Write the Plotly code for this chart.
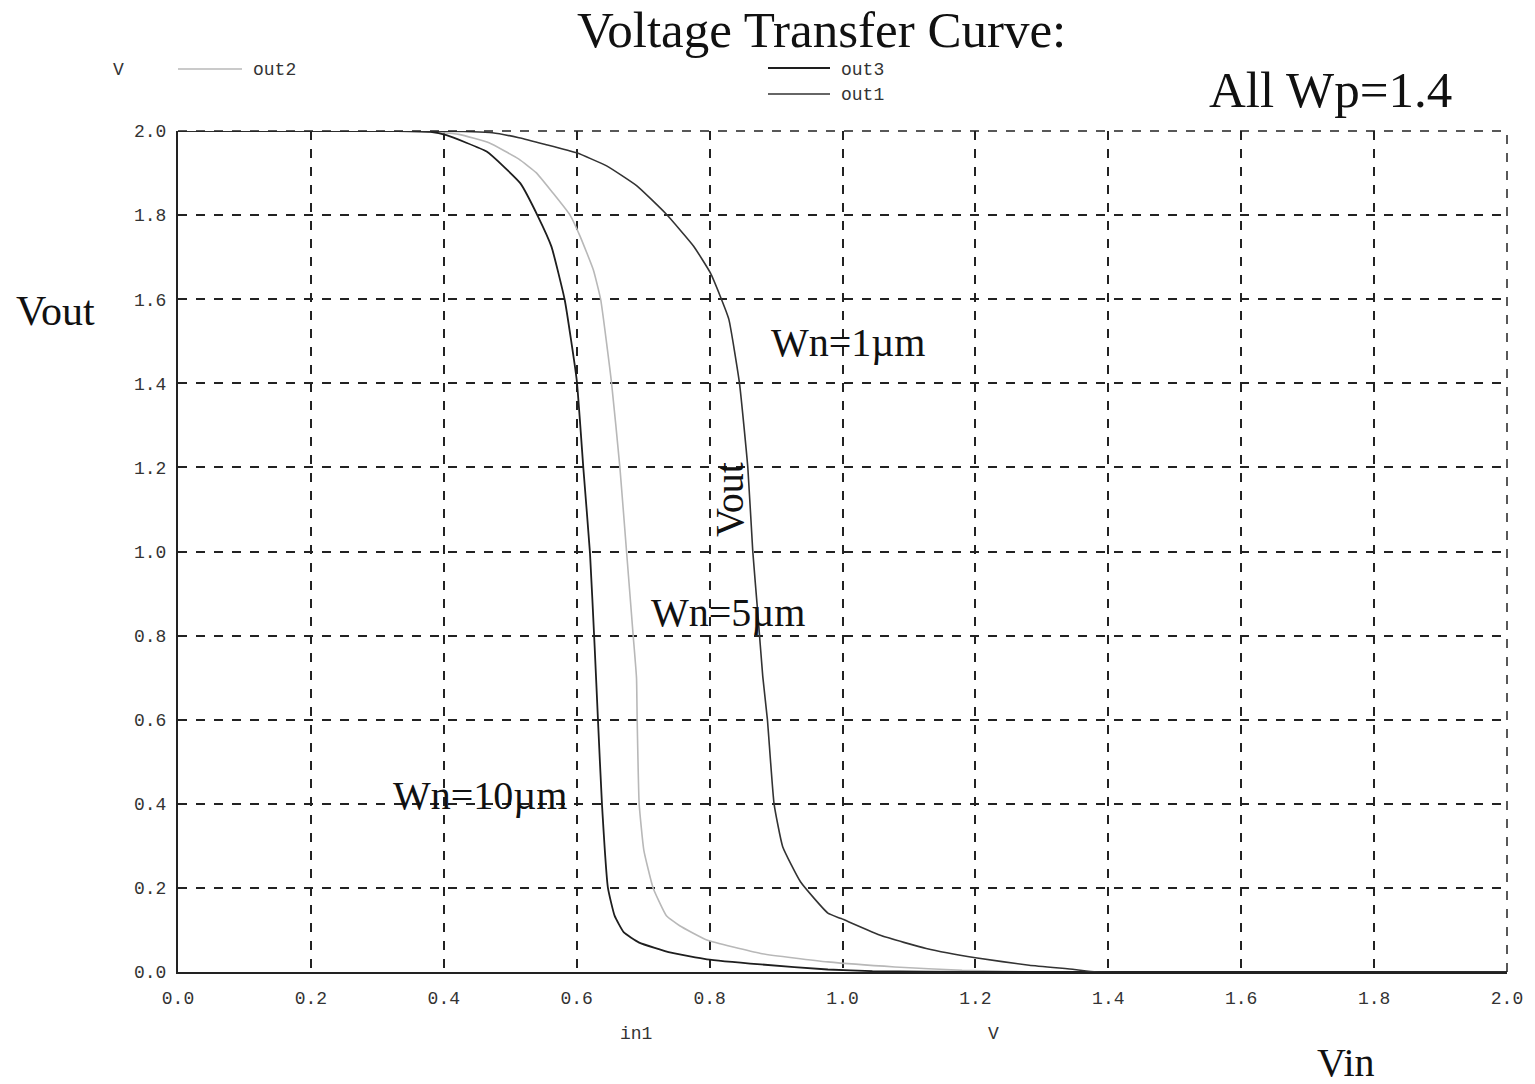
import plotly.graph_objects as go

# ---- data ----
vin_out3 = [0, 0.33, 0.38, 0.404, 0.4645, 0.515, 0.542, 0.562, 0.582, 0.600, 0.610, 0.620, 0.627,
            0.632, 0.638, 0.647, 0.657, 0.671, 0.694, 0.742, 0.796, 0.877, 0.978, 1.045, 1.2, 2.0]
vout_out3 = [2.0, 2.0, 1.998, 1.99, 1.951, 1.876, 1.796, 1.725, 1.598, 1.408, 1.198, 0.996, 0.774,
             0.6, 0.4, 0.2, 0.134, 0.094, 0.07, 0.046, 0.03, 0.018, 0.006, 0.002, 0.0, 0.0]

vin_out2 = [0, 0.36, 0.4227, 0.468, 0.513, 0.539, 0.564, 0.590, 0.605, 0.625, 0.636, 0.6525, 0.665,
            0.675, 0.685, 0.69, 0.691, 0.694, 0.701, 0.715, 0.735, 0.755, 0.796, 0.877, 0.978, 1.079,
            1.18, 1.3, 2.0]
vout_out2 = [2.0, 2.0, 1.992, 1.972, 1.933, 1.901, 1.853, 1.8, 1.75, 1.67, 1.6, 1.4, 1.2,
             1.0, 0.8, 0.7, 0.6, 0.4, 0.29, 0.2, 0.134, 0.11, 0.076, 0.044, 0.024, 0.012,
             0.004, 0.0, 0.0]

vin_out1 = [0, 0.38, 0.473, 0.513, 0.553, 0.6, 0.645, 0.691, 0.735, 0.776, 0.801, 0.816, 0.829,
            0.845, 0.8575, 0.865, 0.8725, 0.88, 0.887, 0.897, 0.910, 0.937, 0.978, 0.998, 1.059,
            1.126, 1.2, 1.281, 1.349, 1.382, 2.0]
vout_out1 = [2.0, 2.0, 1.996, 1.984, 1.968, 1.948, 1.917, 1.869, 1.802, 1.726, 1.663, 1.607, 1.552,
             1.4, 1.2, 1.0, 0.854, 0.703, 0.6, 0.4, 0.298, 0.214, 0.14, 0.127, 0.086,
             0.056, 0.034, 0.016, 0.006, 0.0, 0.0]

tick_vals = [0.0, 0.2, 0.4, 0.6, 0.8, 1.0, 1.2, 1.4, 1.6, 1.8, 2.0]
tick_text = ["0.0", "0.2", "0.4", "0.6", "0.8", "1.0", "1.2", "1.4", "1.6", "1.8", "2.0"]

fig = go.Figure()
fig.add_trace(go.Scatter(x=vin_out2, y=vout_out2, mode="lines", name="out2",
                         line=dict(color="#b8b8b8", width=1.6, shape="spline", smoothing=0.4)))
fig.add_trace(go.Scatter(x=vin_out3, y=vout_out3, mode="lines", name="out3",
                         line=dict(color="#1e1e1e", width=1.8, shape="spline", smoothing=0.4)))
fig.add_trace(go.Scatter(x=vin_out1, y=vout_out1, mode="lines", name="out1",
                         line=dict(color="#333333", width=1.6, shape="spline", smoothing=0.4)))

mono_f = "Liberation Mono, DejaVu Sans Mono, monospace"
mono = dict(family=mono_f, size=18, color="#333333")
serif = "Liberation Serif, Times New Roman, serif"

axis_common = dict(range=[0, 2], tickvals=tick_vals, ticktext=tick_text, tickfont=mono,
                   showgrid=True, gridcolor="#222222", gridwidth=1.5, griddash="dash",
                   zeroline=False, showline=True, linecolor="#222222", linewidth=2,
                   ticks="", fixedrange=True)

fig.update_layout(
    width=1535, height=1084,
    margin=dict(l=178, r=28, t=131, b=112),
    paper_bgcolor="white", plot_bgcolor="white",
    showlegend=False,
    xaxis=dict(**axis_common, ticklabelstandoff=8),
    yaxis=dict(**axis_common, ticklabelstandoff=6),
)

# dashed top and right borders
fig.add_shape(type="line", xref="paper", yref="paper", x0=0, x1=1, y0=1, y1=1,
              line=dict(color="#222222", width=1.5, dash="dash"))
fig.add_shape(type="line", xref="paper", yref="paper", x0=1, x1=1, y0=0, y1=1,
              line=dict(color="#222222", width=1.5, dash="dash"))

def txt(x, y, s, size, family=serif, xanchor="center", yanchor="middle", angle=0, color="#111111"):
    fig.add_annotation(x=x, y=y, xref="paper", yref="paper", text=s, showarrow=False,
                       font=dict(family=family, size=size, color=color),
                       xanchor=xanchor, yanchor=yanchor, textangle=angle)

L, R, T, B = 178.0, 1507.0, 131.0, 972.0
def px(xp):
    return (xp - L) / (R - L)
def py(yp):
    return (B - yp) / (B - T)

# Titles
txt(px(821), py(30), "Voltage Transfer Curve:", 51)
txt(px(1330), py(90), "All Wp=1.4", 51)
txt(px(55), py(311), "Vout", 42)
txt(px(1346), py(1062), "Vin", 40)
# curve labels
txt(px(848), py(342), "Wn=1µm", 40)
txt(px(728), py(612), "Wn=5µm", 40)
txt(px(480), py(795), "Wn=10µm", 40)
txt(px(729), py(500), "Vout", 40, angle=-90)
# small unit labels
txt(px(118), py(70), "V", 18, family=mono_f, color="#333333")
txt(px(636), py(1034), "in1", 18, family=mono_f, color="#333333")
txt(px(993), py(1034), "V", 18, family=mono_f, color="#333333")

# legend-like keys
txt(px(251), py(70), "out2", 18, family=mono_f, xanchor="left", color="#333333")
txt(px(839), py(70), "out3", 18, family=mono_f, xanchor="left", color="#333333")
txt(px(839), py(95), "out1", 18, family=mono_f, xanchor="left", color="#333333")
fig.add_shape(type="line", xref="paper", yref="paper", x0=px(178), x1=px(242), y0=py(69), y1=py(69),
              line=dict(color="#b8b8b8", width=1.6))
fig.add_shape(type="line", xref="paper", yref="paper", x0=px(768), x1=px(830), y0=py(68), y1=py(68),
              line=dict(color="#1e1e1e", width=1.8))
fig.add_shape(type="line", xref="paper", yref="paper", x0=px(768), x1=px(830), y0=py(94), y1=py(94),
              line=dict(color="#333333", width=1.6))

fig.write_html("out.html")
